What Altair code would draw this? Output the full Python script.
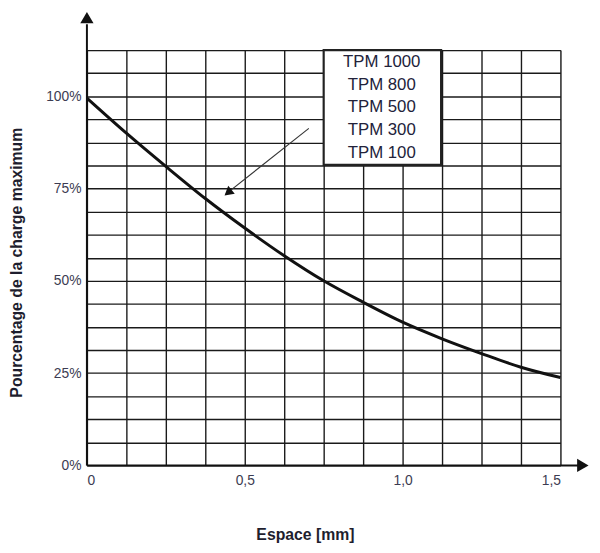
import altair as alt
import pandas as pd

# Curve: load percentage vs gap (mm)
curve_x = [0.0, 0.125, 0.25, 0.375, 0.5, 0.625, 0.75, 0.875, 1.0, 1.125, 1.25, 1.375, 1.5]
curve_y = [99.5, 90.0, 81.0, 72.3, 64.3, 56.8, 50.0, 44.2, 38.8, 34.3, 30.3, 26.6, 23.8]

# Grid values
x_grid = [i * 0.125 for i in range(13)]
y_grid = [i * 6.25 for i in range(19)]

# Legend box labels
legend_labels = ["TPM 1000", "TPM 800", "TPM 500", "TPM 300", "TPM 100"]
legend_y = [109.3, 103.1, 97.0, 90.8, 84.6]
legend_x = 0.934
legend_box = {"x": 0.75, "x2": 1.122, "y": 81.4, "y2": 112.5}

# Pointer arrow (from, to)
pointer_x = [0.703, 0.44]
pointer_y = [91.3, 73.5]
pointer_head = {"x": 0.447, "y": 73.9}

X_MAX, Y_MAX = 1.5, 112.5

xs = alt.Scale(domain=[0, X_MAX], nice=False, zero=False)
ys = alt.Scale(domain=[0, Y_MAX], nice=False, zero=False)

FONT = "Liberation Sans"
LABEL_COLOR = "#3c3c52"

curve_df = pd.DataFrame({"x": curve_x, "y": curve_y})

x_axis = alt.Axis(
    values=x_grid, tickCount=100, grid=True, gridColor="#1a1a1a", gridWidth=1.4, gridOpacity=1,
    domain=False, ticks=False, labelOverlap=False,
    labelExpr="datum.value == 0 ? '0' : (datum.value % 0.5 == 0 ? replace(format(datum.value, '.1f'), '.', ',') : '')",
    labelFont=FONT, labelFontSize=14, labelColor=LABEL_COLOR, labelPadding=8,
    title="Espace [mm]", titleFont=FONT, titleFontSize=16, titleFontWeight="bold",
    titleColor="#1e1e2e", titleX=221, titleY=70, titleAlign="center", titleBaseline="middle",
)
y_axis = alt.Axis(
    values=y_grid, tickCount=100, grid=True, gridColor="#1a1a1a", gridWidth=1.4, gridOpacity=1,
    domain=False, ticks=False, labelOverlap=False,
    labelExpr="datum.value % 25 == 0 ? datum.value + '%' : ''",
    labelFont=FONT, labelFontSize=14, labelColor=LABEL_COLOR, labelPadding=6,
    title="Pourcentage de la charge maximum", titleFont=FONT, titleFontSize=16,
    titleFontWeight="bold", titleColor="#1e1e2e", titleX=-71, titleY=215,
    titleAngle=270, titleAlign="center", titleBaseline="middle",
)

line = alt.Chart(curve_df).mark_line(
    color="#111111", strokeWidth=3, interpolate="monotone"
).encode(
    x=alt.X("x:Q", scale=xs, axis=x_axis),
    y=alt.Y("y:Q", scale=ys, axis=y_axis),
)

# axis lines with arrows
axis_lines = pd.DataFrame({
    "x": [0, 0], "x2": [0, 1.56], "y": [0, 0], "y2": [119.5, 0]
})
axes = alt.Chart(axis_lines).mark_rule(color="#111111", strokeWidth=2).encode(
    x=alt.X("x:Q", scale=xs), x2="x2:Q", y=alt.Y("y:Q", scale=ys), y2="y2:Q"
)
y_arrow = alt.Chart(pd.DataFrame({"x": [0], "y": [121.3]})).mark_point(
    shape="triangle-up", filled=True, color="#111111", size=180, opacity=1
).encode(x=alt.X("x:Q", scale=xs), y=alt.Y("y:Q", scale=ys))
x_arrow = alt.Chart(pd.DataFrame({"x": [1.571], "y": [0]})).mark_point(
    shape="triangle-right", filled=True, color="#111111", size=180, opacity=1
).encode(x=alt.X("x:Q", scale=xs), y=alt.Y("y:Q", scale=ys))

box = alt.Chart(pd.DataFrame([legend_box])).mark_rect(
    fill="white", stroke="#222222", strokeWidth=2.2
).encode(x=alt.X("x:Q", scale=xs), x2="x2:Q", y=alt.Y("y:Q", scale=ys), y2="y2:Q")

box_text = alt.Chart(pd.DataFrame({"x": [legend_x] * 5, "y": legend_y, "t": legend_labels})).mark_text(
    font=FONT, fontSize=17, color="#22223a", align="center", baseline="middle"
).encode(x=alt.X("x:Q", scale=xs), y=alt.Y("y:Q", scale=ys), text="t:N")

pointer = alt.Chart(pd.DataFrame({"x": pointer_x, "y": pointer_y, "o": [0, 1]})).mark_line(
    color="#333333", strokeWidth=1.1
).encode(x=alt.X("x:Q", scale=xs), y=alt.Y("y:Q", scale=ys), order="o:Q")
pointer_tip = alt.Chart(pd.DataFrame([pointer_head])).mark_point(
    shape="triangle-up", filled=True, color="#111111", size=110, angle=230.7, opacity=1
).encode(x=alt.X("x:Q", scale=xs), y=alt.Y("y:Q", scale=ys))

chart = alt.layer(
    line, axes, y_arrow, x_arrow, box, box_text, pointer, pointer_tip
).properties(
    width=480, height=421,
    autosize=alt.AutoSizeParams(type="none"),
    padding={"left": 80, "top": 39, "right": 32, "bottom": 77},
).configure_view(stroke=None).configure(background="white")

chart.save("out.html", embed_options={"renderer": "svg", "actions": False})
